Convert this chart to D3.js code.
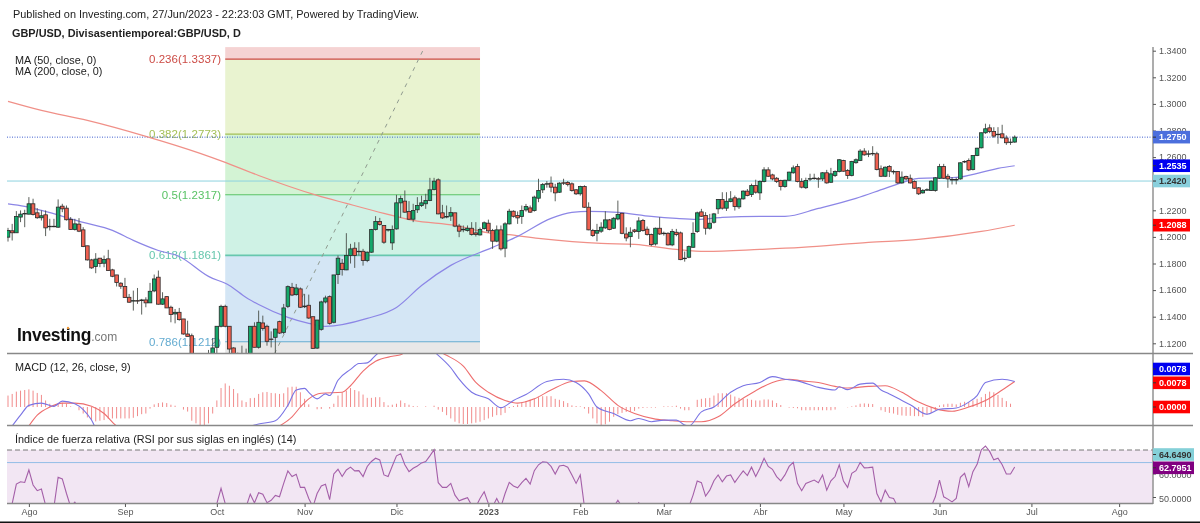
<!DOCTYPE html>
<html lang="es">
<head>
<meta charset="UTF-8">
<script src="https://d3js.org/d3.v7.min.js"></script>
<style>
    body { margin: 0; background: #fff; }
    svg { display: block; font-family: "Liberation Sans", Arial, sans-serif; filter: blur(0.35px); }
    .domain { display: none; }
</style>
</head>
<body>
<div id="here"></div>
<script>
// bar index 0 = 25 Jul 2022, one bar per weekday, 241 = 27 Jun 2023
const opens = [
1.1998,1.2046,1.2031,1.2149,1.2174,1.2171,1.2249,1.2181,1.2144,1.2166,
1.2078,1.2080,1.2073,1.2231,1.2216,1.2131,1.2056,1.2096,1.2053,1.1933,
1.1827,1.1777,1.1840,1.1802,1.1835,1.1752,1.1714,1.1652,1.1627,1.1546,
1.1521,1.1521,1.1521,1.1526,1.1504,1.1594,1.1697,1.1494,1.1551,1.1471,
1.1421,1.1433,1.1383,1.1270,1.1257,1.0800,1.0690,1.0730,1.0890,1.1100,
1.1170,1.1328,1.1478,1.1328,1.1165,1.1090,1.1050,1.0975,1.1090,1.1328,
1.1170,1.1353,1.1328,1.1232,1.1245,1.1363,1.1282,1.1478,1.1621,1.1566,
1.1609,1.1475,1.1486,1.1400,1.1164,1.1305,1.1511,1.1551,1.1358,1.1717,
1.1802,1.1752,1.1860,1.1915,1.1890,1.1892,1.1822,1.1885,1.2055,1.2116,
1.2086,1.2053,1.1955,1.2060,1.2256,1.2269,1.2191,1.2133,1.2204,1.2236,
1.2249,1.2274,1.2357,1.2429,1.2181,1.2150,1.2156,1.2181,1.2081,1.2053,
1.2048,1.2065,1.2030,1.2015,1.2063,1.2103,1.2048,1.1968,1.2053,1.1915,
1.2098,1.2193,1.2161,1.2153,1.2203,1.2218,1.2198,1.2291,1.2354,1.2398,
1.2404,1.2374,1.2336,1.2407,1.2409,1.2399,1.2354,1.2324,1.2379,1.2223,
1.2048,1.2028,1.2043,1.2068,1.2128,1.2065,1.2135,1.2178,1.2022,1.2002,
1.2052,1.2040,1.2123,1.2058,1.2018,1.1947,1.2065,1.2025,1.2027,1.1940,
1.2035,1.2030,1.1840,1.1847,1.1922,1.2040,1.2188,1.2161,1.2065,1.2110,
1.2211,1.2281,1.2216,1.2266,1.2294,1.2226,1.2286,1.2344,1.2319,1.2386,
1.2331,1.2416,1.2504,1.2466,1.2441,1.2424,1.2379,1.2426,1.2482,1.2529,
1.2416,1.2370,1.2435,1.2440,1.2438,1.2436,1.2482,1.2411,1.2462,1.2492,
1.2575,1.2499,1.2462,1.2558,1.2575,1.2645,1.2625,1.2628,1.2625,1.2512,
1.2456,1.2529,1.2491,1.2492,1.2406,1.2454,1.2441,1.2416,1.2369,1.2331,
1.2353,1.2349,1.2349,1.2441,1.2529,1.2456,1.2431,1.2429,1.2436,1.2565,
1.2575,1.2507,1.2612,1.2670,1.2783,1.2820,1.2793,1.2770,1.2775,1.2743,
1.2713,1.2713];
const closes = [
1.2048,1.2031,1.2154,1.2171,1.2176,1.2249,1.2169,1.2144,1.2159,1.2068,
1.2080,1.2078,1.2224,1.2211,1.2129,1.2056,1.2098,1.2043,1.1928,1.1827,
1.1767,1.1833,1.1800,1.1830,1.1747,1.1704,1.1657,1.1629,1.1544,1.1509,
1.1521,1.1519,1.1526,1.1504,1.1591,1.1684,1.1494,1.1534,1.1466,1.1416,
1.1433,1.1378,1.1270,1.1252,1.0856,1.0690,1.0730,1.0890,1.1100,1.1165,
1.1328,1.1478,1.1328,1.1157,1.1060,1.1055,1.0970,1.1100,1.1328,1.1170,
1.1358,1.1312,1.1215,1.1230,1.1307,1.1277,1.1466,1.1626,1.1563,1.1616,
1.1471,1.1480,1.1390,1.1162,1.1375,1.1511,1.1541,1.1350,1.1714,1.1840,
1.1754,1.1860,1.1910,1.1860,1.1892,1.1822,1.1885,1.2055,1.2116,1.2093,
1.1960,1.2055,1.2055,1.2256,1.2289,1.2186,1.2133,1.2199,1.2236,1.2256,
1.2274,1.2354,1.2419,1.2173,1.2143,1.2153,1.2183,1.2081,1.2043,1.2058,
1.2065,1.2018,1.2018,1.2055,1.2106,1.2045,1.1968,1.2053,1.1910,1.2098,
1.2193,1.2155,1.2143,1.2198,1.2228,1.2186,1.2299,1.2349,1.2394,1.2400,
1.2374,1.2331,1.2404,1.2405,1.2394,1.2349,1.2324,1.2379,1.2223,1.2053,
1.2010,1.2048,1.2073,1.2128,1.2055,1.2140,1.2168,1.2027,1.1992,1.2035,
1.2040,1.2120,1.2048,1.2018,1.1942,1.2065,1.2022,1.2028,1.1940,1.2040,
1.2018,1.1829,1.1840,1.1927,1.2027,1.2181,1.2155,1.2065,1.2103,1.2173,
1.2281,1.2216,1.2268,1.2286,1.2228,1.2286,1.2344,1.2311,1.2386,1.2336,
1.2416,1.2504,1.2456,1.2436,1.2416,1.2379,1.2426,1.2487,1.2519,1.2416,
1.2374,1.2424,1.2438,1.2442,1.2436,1.2482,1.2406,1.2474,1.2492,1.2580,
1.2494,1.2462,1.2567,1.2580,1.2645,1.2617,1.2625,1.2627,1.2507,1.2456,
1.2524,1.2494,1.2492,1.2406,1.2449,1.2436,1.2406,1.2366,1.2324,1.2349,
1.2355,1.2419,1.2444,1.2529,1.2441,1.2436,1.2431,1.2431,1.2557,1.2567,
1.2504,1.2612,1.2667,1.2783,1.2813,1.2793,1.2758,1.2772,1.2745,1.2708,
1.2713,1.2750];
const highs = [
1.2068,1.2098,1.2194,1.2199,1.2204,1.2299,1.2287,1.2216,1.2199,1.2199,
1.2136,1.2136,1.2282,1.2249,1.2236,1.2149,1.2136,1.2141,1.2073,1.1933,
1.1835,1.1878,1.1840,1.1860,1.1903,1.1760,1.1714,1.1659,1.1692,1.1571,
1.1596,1.1616,1.1534,1.1546,1.1654,1.1717,1.1747,1.1584,1.1551,1.1483,
1.1458,1.1466,1.1383,1.1370,1.1273,1.0900,1.0810,1.0915,1.1150,1.1240,
1.1330,1.1490,1.1490,1.1330,1.1170,1.1130,1.1182,1.1160,1.1330,1.1358,
1.1446,1.1408,1.1340,1.1290,1.1310,1.1370,1.1496,1.1635,1.1654,1.1646,
1.1620,1.1571,1.1566,1.1400,1.1375,1.1520,1.1558,1.1560,1.1714,1.1860,
1.1834,1.2028,1.1948,1.1960,1.1960,1.1910,1.1890,1.2060,1.2156,1.2143,
1.2086,1.2060,1.2086,1.2316,1.2311,1.2349,1.2269,1.2249,1.2299,1.2310,
1.2324,1.2444,1.2444,1.2440,1.2241,1.2236,1.2224,1.2181,1.2098,1.2086,
1.2086,1.2111,1.2111,1.2070,1.2116,1.2130,1.2060,1.2086,1.2086,1.2110,
1.2211,1.2200,1.2191,1.2236,1.2248,1.2236,1.2310,1.2437,1.2405,1.2420,
1.2454,1.2399,1.2412,1.2437,1.2420,1.2410,1.2360,1.2385,1.2388,1.2260,
1.2060,1.2098,1.2110,1.2193,1.2135,1.2150,1.2273,1.2180,1.2072,1.2072,
1.2060,1.2148,1.2135,1.2078,1.2025,1.2070,1.2148,1.2040,1.2035,1.2060,
1.2060,1.2040,1.1890,1.1935,1.2110,1.2190,1.2211,1.2186,1.2173,1.2180,
1.2285,1.2336,1.2336,1.2344,1.2311,1.2295,1.2350,1.2360,1.2400,1.2430,
1.2425,1.2524,1.2524,1.2475,1.2450,1.2430,1.2430,1.2490,1.2537,1.2549,
1.2441,1.2445,1.2475,1.2475,1.2450,1.2487,1.2504,1.2519,1.2500,1.2585,
1.2580,1.2510,1.2572,1.2590,1.2660,1.2667,1.2650,1.2682,1.2640,1.2537,
1.2530,1.2540,1.2505,1.2495,1.2492,1.2460,1.2469,1.2425,1.2375,1.2360,
1.2365,1.2425,1.2450,1.2549,1.2549,1.2474,1.2450,1.2445,1.2562,1.2575,
1.2590,1.2615,1.2670,1.2785,1.2851,1.2846,1.2825,1.2825,1.2843,1.2763,
1.2740,1.2763];
const lows = [
1.1965,1.1973,1.2031,1.2111,1.2073,1.2169,1.2161,1.2136,1.2123,1.2006,
1.2048,1.2073,1.2068,1.2186,1.2123,1.2053,1.2048,1.2036,1.1923,1.1822,
1.1760,1.1727,1.1772,1.1772,1.1747,1.1697,1.1627,1.1609,1.1544,1.1504,
1.1446,1.1496,1.1416,1.1471,1.1504,1.1584,1.1491,1.1488,1.1466,1.1358,
1.1350,1.1370,1.1265,1.1252,1.0840,1.0350,1.0650,1.0540,1.0870,1.1030,
1.1100,1.1320,1.1320,1.1120,1.1030,1.1000,1.0920,1.0930,1.1060,1.1170,
1.1160,1.1295,1.1182,1.1169,1.1119,1.1270,1.1270,1.1465,1.1555,1.1558,
1.1465,1.1465,1.1383,1.1157,1.1157,1.1295,1.1500,1.1340,1.1350,1.1646,
1.1709,1.1750,1.1800,1.1767,1.1860,1.1784,1.1810,1.1880,1.2048,1.2085,
1.1948,1.2040,1.1902,1.2055,1.2143,1.2181,1.2128,1.2111,1.2180,1.2225,
1.2211,1.2269,1.2350,1.2170,1.2135,1.2140,1.2120,1.2073,1.1998,1.2035,
1.2040,1.2010,1.2003,1.2010,1.2055,1.2030,1.1910,1.1960,1.1897,1.1847,
1.2093,1.2145,1.2098,1.2098,1.2190,1.2180,1.2190,1.2261,1.2330,1.2370,
1.2336,1.2268,1.2330,1.2390,1.2380,1.2340,1.2315,1.2310,1.2218,1.2050,
1.2000,1.1967,1.2030,1.2060,1.2050,1.2060,1.2125,1.2020,1.1967,1.1922,
1.2030,1.1985,1.2040,1.2010,1.1930,1.1935,1.2015,1.2010,1.1935,1.1930,
1.2005,1.1825,1.1814,1.1840,1.1918,1.2030,1.2150,1.2017,1.2055,1.2100,
1.2173,1.2205,1.2195,1.2260,1.2198,1.2210,1.2280,1.2305,1.2300,1.2325,
1.2278,1.2410,1.2450,1.2425,1.2405,1.2349,1.2370,1.2420,1.2475,1.2410,
1.2365,1.2360,1.2420,1.2430,1.2369,1.2420,1.2400,1.2405,1.2450,1.2485,
1.2490,1.2436,1.2455,1.2550,1.2570,1.2610,1.2600,1.2610,1.2500,1.2450,
1.2450,1.2450,1.2470,1.2400,1.2400,1.2425,1.2400,1.2360,1.2315,1.2325,
1.2345,1.2345,1.2340,1.2435,1.2435,1.2369,1.2394,1.2395,1.2430,1.2555,
1.2495,1.2500,1.2607,1.2665,1.2775,1.2780,1.2745,1.2700,1.2740,1.2692,
1.2692,1.2708];

// moving averages, [bar, price]
const ma50 = [[0,1.2248],[4,1.2229],[8,1.2199],[18,1.2109],[25,1.2049],[30,1.1974],[36,1.1898],[41,1.1853],
[48,1.1703],[53,1.1635],[57,1.1545],[60,1.1492],[67,1.1395],[72,1.1350],[76,1.1327],[86,1.1387],[93,1.1470],
[99,1.1635],[106,1.1786],[116,1.1921],[122,1.2004],[130,1.2139],[135,1.2184],[139,1.2192],[146,1.2184],
[154,1.2154],[160,1.2139],[165,1.2132],[171,1.2147],[180,1.2154],[186,1.2154],[194,1.2214],[203,1.2290],
[210,1.2365],[215,1.2417],[218,1.2440],[227,1.2447],[233,1.2485],[237,1.2515],[241,1.2535]];
const ma200 = [[0,1.3019],[8,1.2951],[19,1.2876],[33,1.2756],[46,1.2628],[52,1.2560],[60,1.2462],[74,1.2312],
[81,1.2252],[90,1.2177],[97,1.2124],[107,1.2086],[116,1.2026],[119,1.2019],[127,1.1989],[142,1.1951],
[150,1.1944],[160,1.1906],[167,1.1891],[180,1.1906],[190,1.1921],[206,1.1959],[218,1.1981],[233,1.2041],[241,1.2088]];

// 1.24 sits fully behind the 1.2420 tag in the picture
const priceTicks = [1.34,1.32,1.30,1.28,1.26,1.22,1.20,1.18,1.16,1.14,1.12];
const monthBars = [5,28,50,71,93,115,137,157,180,200,223,245,266];
const monthNames = ["Ago","Sep","Oct","Nov","Dic","2023","Feb","Mar","Abr","May","Jun","Jul","Ago"];

// fibonacci tool
const fibLevels = [0.236,0.382,0.5,0.618,0.786];
const fibPrices = [1.3337,1.2773,1.2317,1.1861,1.1212];
const fibBars = [52,113];
const fibTop = 1.3427;
const fibBottom = 1.0350;
const fibLines = ["#cc4b45","#a3bf55","#58c264","#67c7ae","#63abd0"];
const fibFills = ["#f5d3d3","#e9f3d0","#d3f3d4","#cff2e5","#d4e6f5","#e8e8e8"];
const trendBars = [60,99.6];
const trendPrices = [1.0878,1.3419];

const lastPrice = 1.2750;
const supportLine = 1.2420;

// macd, in units of 0.0001
const macdHist = [
35,40,47,50,52,54,50,43,37,20,10,5,8,13,10,2,0,-10,-20,-32,
-40,-44,-42,-40,-36,-35,-35,-35,-35,-35,-33,-28,-22,-20,-5,8,12,14,12,7,
4,0,-8,-14,-42,-50,-60,-60,-50,-20,20,58,72,65,55,42,20,15,27,28,
40,45,46,43,42,40,42,60,62,62,45,25,8,0,-7,-6,0,-5,10,35,
45,50,58,52,48,38,28,28,30,30,15,5,7,10,20,12,7,3,2,0,
2,0,4,-8,-15,-25,-35,-45,-50,-52,-52,-50,-48,-45,-40,-35,-30,-25,-25,-18,
-3,3,7,13,18,22,25,30,33,33,33,25,22,18,12,5,3,2,-5,-20,
-35,-50,-57,-53,-45,-30,-22,-18,-15,-15,-12,-5,-3,-2,-2,-2,0,2,2,2,
4,-5,-10,-10,0,22,25,27,28,35,42,42,42,38,32,28,25,25,22,20,
20,23,23,20,12,6,0,-2,-3,-4,-10,-10,-10,-10,-10,-10,-10,-10,-8,0,
0,-1,2,5,10,11,10,9,0,-10,-15,-18,-20,-24,-26,-27,-27,-28,-28,-30,
-24,-18,-10,5,8,10,10,8,13,16,15,20,25,30,40,47,45,37,28,18,
10,0];
const macdLine = [[1,-58],[3,-25],[5,5],[8,12],[11,2],[13,18],[16,10],[18,-8],[20,-40],[21,-62],[40,-130],
[60,-52],[64,-42],[67,5],[69,52],[71,57],[72,45],[74,25],[76,40],[77,35],[79,82],[82,115],[84,133],[86,135],[88,158],[95,215],
[103,158],[106,120],[108,85],[111,45],[115,25],[118,-2],[121,20],[124,38],[129,78],[133,85],[136,75],[139,40],[141,0],[145,-20],
[149,-42],[151,-35],[154,-45],[157,-40],[160,-40],[162,-55],[163,-58],[166,-15],[169,0],[173,45],[176,65],[180,75],[183,93],[186,85],[189,80],
[194,60],[198,52],[199,62],[201,53],[204,70],[207,73],[209,52],[211,40],[214,20],[216,7],[220,-22],[223,-7],[227,-3],[230,15],[232,35],[234,75],[238,85],[241,78]];
const macdSignal = [[5,-58],[7,-25],[10,0],[13,12],[16,12],[20,2],[23,-20],[26,-58],[45,-135],
[65,-58],[68,-30],[70,0],[72,25],[75,42],[80,45],[82,65],[85,110],[88,140],[92,155],[94,160],[98,190],
[105,158],[109,125],[112,75],[115,45],[119,20],[122,12],[126,25],[130,52],[135,78],[138,80],[142,50],[146,5],[150,-20],[155,-37],
[159,-42],[163,-45],[166,-45],[170,-30],[174,10],[179,50],[183,75],[187,85],[190,80],
[194,75],[198,63],[201,58],[206,63],[210,65],[214,45],[218,15],[222,-5],[226,-13],[230,0],[234,20],[238,52],[241,78]];

// rsi, [bar, value]
const rsiLine = [[1,47.2],[2,55.5],[3,56.5],[4,56.2],[5,61.5],[6,55.1],[7,52.7],[8,53.4],[9,46.5],[11,45.8],[12,58.4],[13,57.7],[14,51.5],[15,45.8],[16,47.8],[17,45],
[30,38],[45,25],[49,45],[50,47.2],[51,53.7],[52,47.2],[53,45.8],[57,45.8],[58,51.2],[59,47.5],[60,51.8],[61,51.2],[62,47.6],[63,48.6],[64,50.7],[65,50.1],[66,55.8],[67,61.1],[68,58.7],[69,59.7],
[70,54.1],[71,54.1],[72,49.4],[73,45.8],[74,51.5],[75,54.7],[76,55.4],[77,48.9],[78,59.8],[79,61.8],[80,58.7],[81,61.5],[82,62.7],[83,61.1],[84,61.2],[85,58.7],[86,63],[87,65.1],[88,66.5],[89,65.8],
[90,59.4],[91,58.7],[92,63.2],[93,67.5],[94,68.4],[95,63.7],[96,60.8],[97,62.2],[98,63.2],[99,64.5],[100,65.1],[101,67.5],[102,70.1],[103,56.1],[104,54.1],[105,54.1],[106,55.8],[107,50.8],[108,48.4],[109,49.1],
[110,49.7],[111,46.5],[112,45.8],[113,49.4],[114,52.2],[115,47.2],[116,45.8],[117,49.4],[118,45.8],[119,51.5],[120,56.2],[121,54.7],[122,53.9],[123,56.1],[124,57.9],[125,55.5],[126,61.2],[127,63.7],[128,65],[129,64.8],
[130,63],[131,59.8],[132,63.2],[133,63.5],[134,62.7],[135,59.4],[136,55.8],[137,59.4],[138,45.8],[140,36],[145,45.8],[146,48.6],[147,45.8],[150,45],[151,47.6],[152,45],[160,40],[163,45.8],[164,50.8],[165,56.8],[166,56.1],[167,50.4],[168,52.9],[169,56.9],
[170,59.4],[171,56.5],[172,58.9],[173,59.4],[174,56.2],[175,58.7],[176,61.1],[177,59.1],[178,62.7],[179,58.7],[180,62.2],[181,66.5],[182,63],[183,61.8],[184,58.7],[185,56.9],[186,59.4],[187,63],[188,64.7],[189,55.8],
[190,52.7],[191,55.8],[192,56.5],[193,57.2],[194,56.1],[195,59.4],[196,52.9],[197,56.9],[198,58.7],[199,63.7],[200,56.8],[201,54.1],[202,60.1],[203,61.2],[204,64.7],[205,62.4],[206,62.5],[207,62.7],[208,51.5],[209,47.9],
[210,52.9],[211,49.8],[212,49.4],[213,45.8],[216,42],[221,45.8],[222,50.1],[223,57.2],[224,50.1],[225,49.1],[226,47.9],[227,49.4],[228,58.4],[229,60.1],[230,54.4],[231,60.8],[232,63.9],[233,70.1],[234,71.7],[235,69.4],[236,65.8],[237,66.5],[238,63.7],[239,59.8],[240,59.8],[241,62.8]];
const rsiTicks = [50,60];
const rsiUpper = 70;
const rsiBase = 64.649;
const rsiLast = 62.7951;

const paneLeft = 7, axisX = 1153;
const x = d3.scaleLinear().domain([0, 241]).range([8, 1014.7]);
const y = d3.scaleLinear().domain([1.34, 1.12]).range([50.7, 343.3]);
const yMacd = d3.scaleLinear().domain([0, 0.0078]).range([407, 381.5]);
const yRsi = d3.scaleLinear().domain([60, 50]).range([473.5, 497]);

const svg = d3.select("#here").append("svg").attr("width", 1200).attr("height", 523);
svg.append("rect").attr("width", 1200).attr("height", 523).attr("fill", "#fff");

function clip(id, top, bottom) {
    svg.append("clipPath").attr("id", id).append("rect")
        .attr("x", paneLeft).attr("y", top).attr("width", axisX - paneLeft).attr("height", bottom - top);
    return svg.append("g").attr("clip-path", `url(#${id})`);
}
const pricePane = clip("c1", 47, 353);
const macdPane = clip("c2", 354, 425);
const rsiPane = clip("c3", 426, 503);

// fib zones
const fibEdges = [fibTop, ...fibPrices, fibBottom];
fibFills.forEach((c, k) => {
    pricePane.append("rect")
        .attr("x", x(fibBars[0])).attr("width", x(fibBars[1]) - x(fibBars[0]))
        .attr("y", y(fibEdges[k])).attr("height", y(fibEdges[k + 1]) - y(fibEdges[k]))
        .attr("fill", c);
});
fibPrices.forEach((p, k) => {
    pricePane.append("line")
        .attr("x1", x(fibBars[0])).attr("x2", x(fibBars[1]))
        .attr("y1", y(p)).attr("y2", y(p))
        .attr("stroke", fibLines[k]).attr("stroke-width", k == 3 ? 1.6 : 1.1);
    pricePane.append("text")
        .attr("x", x(fibBars[0]) - 4).attr("y", y(p) + 4)
        .attr("text-anchor", "end").attr("font-size", 11.5).attr("letter-spacing", 0.05)
        .attr("fill", fibLines[k]).text(`${fibLevels[k]}(${p.toFixed(4)})`);
});
pricePane.append("line")
    .attr("x1", x(trendBars[0])).attr("x2", x(trendBars[1]))
    .attr("y1", y(trendPrices[0])).attr("y2", y(trendPrices[1]))
    .attr("stroke", "#8f9a8f").attr("stroke-dasharray", "4 5");

// horizontal lines
pricePane.append("line").attr("x1", paneLeft).attr("x2", axisX).attr("y1", y(supportLine)).attr("y2", y(supportLine))
    .attr("stroke", "#8ed2df");
pricePane.append("line").attr("x1", paneLeft).attr("x2", axisX).attr("y1", y(lastPrice)).attr("y2", y(lastPrice))
    .attr("stroke", "#3f5fd0").attr("stroke-dasharray", "1 1.5");

// logo
const logo = pricePane.append("text").attr("x", 17).attr("y", 341).attr("fill", "#111");
logo.append("tspan").attr("font-size", 17.5).attr("font-weight", "bold").attr("letter-spacing", -0.3).text("Investing");
logo.append("tspan").attr("font-size", 12).attr("fill", "#777").text(".com");
pricePane.append("circle").attr("cx", 68).attr("cy", 328).attr("r", 1.2).attr("fill", "#f09a3a");

// moving averages
const line = (sy, curve) => d3.line().curve(curve || d3.curveLinear).x(d => x(d[0])).y(d => sy(d[1]));
pricePane.append("path").attr("d", line(y, d3.curveMonotoneX)(ma200)).attr("fill", "none").attr("stroke", "#f09088").attr("stroke-width", 1.2);
pricePane.append("path").attr("d", line(y, d3.curveMonotoneX)(ma50)).attr("fill", "none").attr("stroke", "#8c86e6").attr("stroke-width", 1.2);

// candles
const bars = d3.range(opens.length);
pricePane.selectAll("line.wick").data(bars).enter().append("line").attr("class", "wick")
    .attr("x1", i => x(i)).attr("x2", i => x(i))
    .attr("y1", i => y(highs[i])).attr("y2", i => y(lows[i]))
    .attr("stroke", "#4a4f4a").attr("stroke-width", 0.9);
pricePane.selectAll("rect.body").data(bars).enter().append("rect").attr("class", "body")
    .attr("x", i => x(i) - 1.8).attr("width", 3.6)
    .attr("y", i => y(Math.max(opens[i], closes[i])))
    .attr("height", i => Math.max(0.5, Math.abs(y(opens[i]) - y(closes[i]))))
    .attr("fill", i => closes[i] >= opens[i] ? "#14a86a" : "#f06050")
    .attr("stroke", "#2a2a2a").attr("stroke-width", 0.8);

// macd pane
const macdV = d => [d[0], d[1] * 1e-4];
macdPane.selectAll("line").data(bars).enter().append("line")
    .attr("x1", i => x(i)).attr("x2", i => x(i))
    .attr("y1", yMacd(0)).attr("y2", i => yMacd(macdHist[i] * 1e-4))
    .attr("stroke", "#f18b8b").attr("stroke-width", 1);
macdPane.append("path").attr("d", line(yMacd, d3.curveMonotoneX)(macdSignal.map(macdV))).attr("fill", "none").attr("stroke", "#ee6e6e").attr("stroke-width", 1.1);
macdPane.append("path").attr("d", line(yMacd, d3.curveMonotoneX)(macdLine.map(macdV))).attr("fill", "none").attr("stroke", "#7a74e4").attr("stroke-width", 1.1);

// rsi pane
rsiPane.append("rect").attr("x", paneLeft).attr("width", axisX - paneLeft)
    .attr("y", yRsi(rsiUpper)).attr("height", 60).attr("fill", "#f2e6f3");
rsiPane.append("line").attr("x1", paneLeft).attr("x2", axisX).attr("y1", yRsi(rsiUpper)).attr("y2", yRsi(rsiUpper))
    .attr("stroke", "#777").attr("stroke-dasharray", "5 3");
rsiPane.append("line").attr("x1", paneLeft).attr("x2", axisX).attr("y1", yRsi(rsiBase)).attr("y2", yRsi(rsiBase))
    .attr("stroke", "#93bde6");
rsiPane.append("path").attr("d", line(yRsi)(rsiLine)).attr("fill", "none").attr("stroke", "#a45fa8").attr("stroke-width", 1.1);

// pane borders
svg.append("line").attr("x1", axisX).attr("x2", axisX).attr("y1", 47).attr("y2", 504).attr("stroke", "#999").attr("stroke-width", 1.6);
[[353.5, 1193], [425.5, 1193], [503.5, axisX]].forEach(b => {
    svg.append("line").attr("x1", paneLeft).attr("x2", b[1]).attr("y1", b[0]).attr("y2", b[0])
        .attr("stroke", "#888").attr("stroke-width", 1.4);
});

// axes
const axisStyle = g => {
    g.selectAll("text").attr("fill", "#555").attr("font-size", 9).attr("font-family", "inherit");
    g.selectAll("line").attr("stroke", "#555");
};
svg.append("g").attr("transform", `translate(${axisX},0)`)
    .call(d3.axisRight(y).tickValues(priceTicks).tickFormat(d3.format(".4f")).tickSize(3).tickPadding(3))
    .call(axisStyle);
svg.append("g").attr("transform", `translate(${axisX},0)`)
    .call(d3.axisRight(yRsi).tickValues(rsiTicks).tickFormat(d3.format(".4f")).tickSize(3).tickPadding(3))
    .call(axisStyle)
    .selectAll("text").attr("dy", "0.45em");
svg.append("g").attr("transform", "translate(0,504)")
    .call(d3.axisBottom(x).tickValues(monthBars).tickFormat((d, k) => monthNames[k]).tickSize(3).tickPadding(2))
    .call(axisStyle)
    .selectAll("text").attr("font-weight", (d, k) => monthNames[k] == "2023" ? "bold" : null);

// last value tags, centre kept off the line where two would collide
function tag(val, yc, bg, fg, right = 1190) {
    svg.append("rect").attr("x", axisX).attr("y", yc - 6.3).attr("width", right - axisX).attr("height", 12.6).attr("fill", bg);
    svg.append("line").attr("x1", axisX).attr("x2", axisX + 3).attr("y1", yc).attr("y2", yc).attr("stroke", "#333");
    svg.append("text").attr("x", axisX + 6).attr("y", yc + 3.3).attr("font-size", 9).attr("font-weight", "bold")
        .attr("fill", fg).text(val);
}
tag(lastPrice.toFixed(4), y(lastPrice), "#4c6fdd", "#fff");
tag("1.2535", y(1.2535), "#0000f0", "#fff");
tag(supportLine.toFixed(4), y(supportLine), "#89cfdc", "#333");
tag("1.2088", y(1.2088), "#ff0000", "#fff");
tag("0.0078", yMacd(0.0078) - 12.5, "#0000f0", "#fff");
tag("0.0078", yMacd(0.0078) + 1.3, "#ff0000", "#fff");
tag("0.0000", yMacd(0), "#ff0000", "#fff");
tag(rsiBase.toFixed(4), 454.5, "#84d0d8", "#333", 1194);
tag(rsiLast.toFixed(4), 467.8, "#800080", "#fff", 1194);

// text
const label = (t, lx, ly, size, weight, fill) => svg.append("text").attr("x", lx).attr("y", ly)
    .attr("font-size", size).attr("font-weight", weight || null).attr("fill", fill || "#222").text(t);
label("Published on Investing.com, 27/Jun/2023 - 22:23:03 GMT, Powered by TradingView.", 13, 18, 10.9);
label("GBP/USD, Divisasentiemporeal:GBP/USD, D", 12, 37, 10.9, "bold");
label("MA (50, close, 0)", 15, 64, 10.85);
label("MA (200, close, 0)", 15, 75, 10.85);
label("MACD (12, 26, close, 9)", 15, 371, 10.85);
label("Índice de fuerza relativa (RSI por sus siglas en inglés) (14)", 15, 443, 10.85);

// black strip under the picture
svg.append("rect").attr("y", 521.5).attr("width", 1200).attr("height", 2).attr("fill", "#111");
</script>
</body>
</html>
